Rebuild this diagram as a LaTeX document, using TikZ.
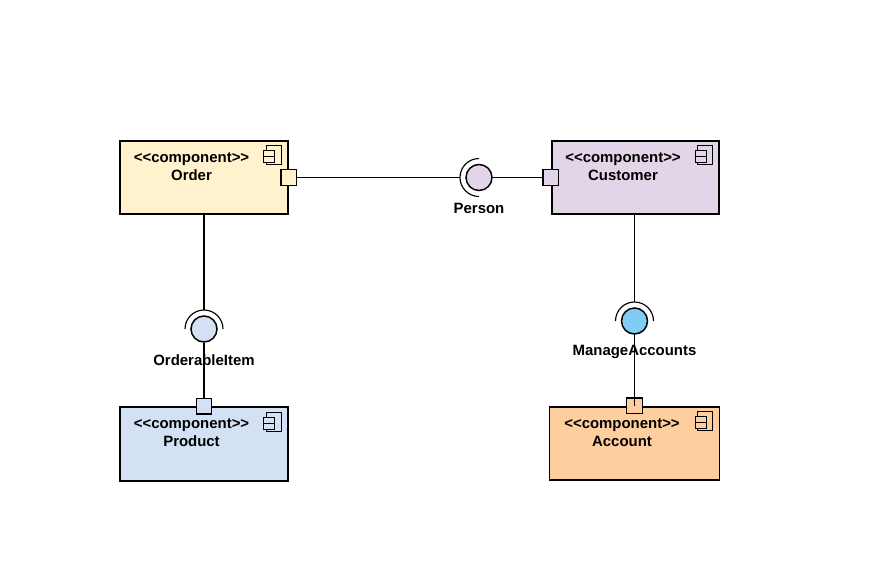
\documentclass[tikz,border=0pt]{standalone}
\usepackage{fontspec}
\setmainfont{Liberation Sans}
\usepackage{xcolor}
\usetikzlibrary{positioning}

\definecolor{orderfill}{HTML}{FFF2CC}
\definecolor{customerfill}{HTML}{E1D5E7}
\definecolor{productfill}{HTML}{D4E1F5}
\definecolor{accountfill}{HTML}{FFCE9F}
\definecolor{managefill}{HTML}{7FCCF7}

\newcommand{\stereotype}{<{}<component>{}>}

\tikzset{
    compicon/.pic={
        \filldraw[line width=0.6pt] (-0.45,-0.12) rectangle (-0.15,-0.5);
        \filldraw[line width=0.6pt] (-0.5,-0.22) rectangle (-0.28,-0.34);
        \filldraw[line width=0.6pt] (-0.5,-0.34) rectangle (-0.28,-0.46);
    }
}

\begin{document}
\begin{tikzpicture}[on grid, line width=0.65pt,
    compbox/.style={rectangle, draw, line width=1.05pt, minimum width=3.36cm, minimum height=1.47cm, inner sep=0pt},
    comptext/.style={align=center, inner sep=0pt, font=\fontsize{8.5}{10.2}\selectfont\bfseries},
    port/.style={rectangle, draw, line width=0.8pt, minimum size=0.31cm, inner sep=0pt},
    iface/.style={circle, draw, line width=0.85pt, minimum size=0.52cm, inner sep=0pt},
    ifacelabel/.style={font=\fontsize{8.5}{10}\selectfont\bfseries, inner sep=0pt}]

            \useasboundingbox (0,0) rectangle (17.42,-11.52);

            % components
            \node[compbox, fill=orderfill] (Order) at (4.08,-3.55) {};
            \node[compbox, fill=customerfill, minimum width=3.35cm, right=8.63cm of Order] (Customer) {};
            \node[compbox, fill=productfill, below=5.33cm of Order] (Product) {};
            \node[compbox, fill=accountfill, minimum width=3.4cm, below left=5.32cm and 0.02cm of Customer] (Account) {};

            \node[comptext, above left=0.22cm and 0.25cm of Order] (OrderText) {\stereotype\\Order};
            \node[comptext, above left=0.22cm and 0.25cm of Customer] (CustomerText) {\stereotype\\Customer};
            \node[comptext, above left=0.22cm and 0.25cm of Product] (ProductText) {\stereotype\\Product};
            \node[comptext, above left=0.22cm and 0.25cm of Account] (AccountText) {\stereotype\\Account};

            \pic[fill=orderfill] at (Order.north east) {compicon};
            \pic[fill=customerfill] at (Customer.north east) {compicon};
            \pic[fill=productfill] at (Product.north east) {compicon};
            \pic[fill=accountfill] at (Account.north east) {compicon};

            % interfaces
            \node[iface, fill=customerfill, right=5.5cm of Order] (Person) {};
            \node[iface, fill=productfill, below=3.03cm of Order] (OrderableItem) {};
            \node[iface, fill=managefill, below left=2.87cm and 0.02cm of Customer] (ManageAccounts) {};

            \node[ifacelabel, below=0.62cm of Person] (PersonLabel) {Person};
            \node[ifacelabel, below=0.62cm of OrderableItem] (OrderableLabel) {OrderableItem};
            \node[ifacelabel, below=0.62cm of ManageAccounts] (ManageLabel) {ManageAccounts};

            \coordinate[left=0.38cm of Person] (PersonArc);
            \coordinate[above=0.38cm of OrderableItem] (OrderableArc);
            \coordinate[above=0.38cm of ManageAccounts] (ManageArc);

            \draw (PersonArc) ++(0.38,0.38) arc (90:270:0.38);
            \draw (OrderableArc) ++(0.38,-0.38) arc (0:180:0.38);
            \draw (ManageArc) ++(0.38,-0.38) arc (0:180:0.38);

            % connectors and ports
            \draw (Order.south) -- (OrderableArc);
            \draw (ManageArc |- Customer.south) -- (ManageArc);
            \draw (OrderableItem) -- (Product.north);

            \node[port, fill=orderfill] (OrderPort) at (Order.east) {};
            \node[port, fill=customerfill] (CustomerPort) at (Customer.west) {};
            \node[port, fill=productfill] (ProductPort) at (Product.north) {};
            \node[port, fill=accountfill] (AccountPort) at (Account.north) {};

            \draw (OrderPort) -- (PersonArc);
            \draw (Person) -- (CustomerPort);
            \draw (ManageAccounts) -- (AccountPort.center);

        \end{tikzpicture}
\end{document}
